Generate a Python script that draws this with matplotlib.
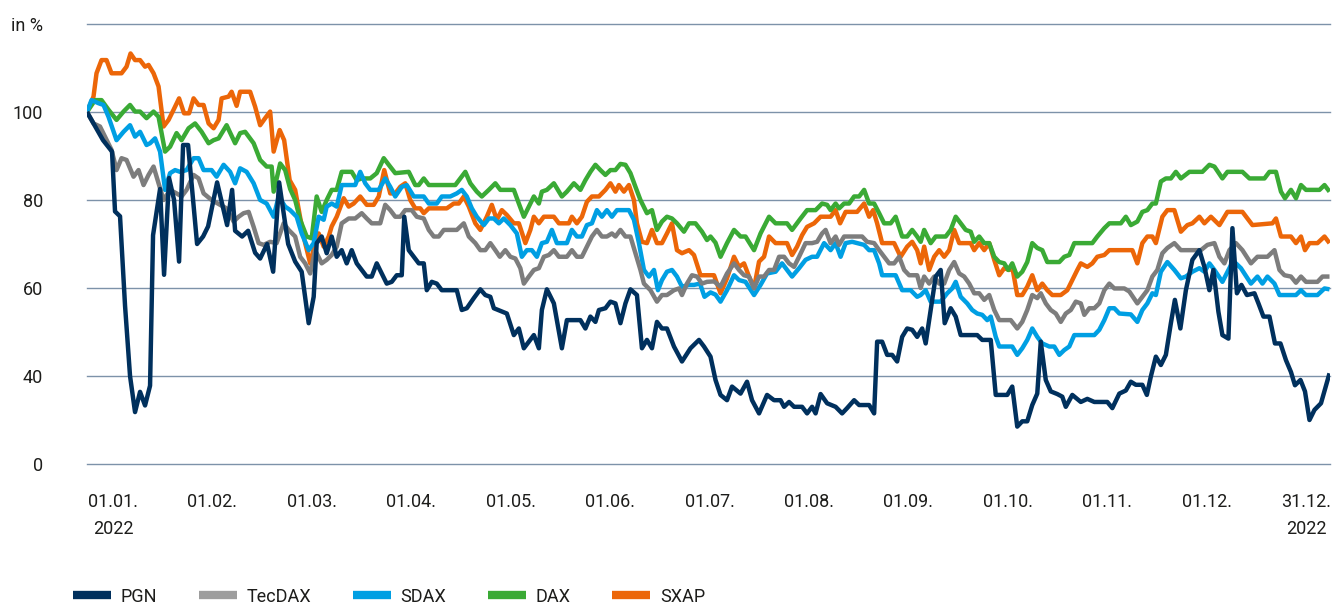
import matplotlib
matplotlib.use('Agg')
import matplotlib.pyplot as plt
from matplotlib.lines import Line2D

plt.rcParams['font.family'] = ['Roboto', 'DejaVu Sans']

# trading day index (0 = 01.01.2022, 248 = 31.12.2022), indexed to 100
pgn = [(0, 100), (2, 96), (3.2, 93.6), (5, 91), (5.6, 77.4), (6.6, 76.3), (7.6, 56), (8.6, 40), (9.6, 31.8),
       (10.6, 36.4), (11.6, 33.3), (12.6, 37.8), (13.2, 72), (14.6, 82.5), (15.4, 63), (16.4, 85), (17.4, 80),
       (18.4, 66), (19.2, 92.5), (20.2, 92.5), (22, 70), (23.2, 71.7), (24.2, 74), (26, 84), (28, 74.3),
       (29, 82.3), (29.6, 73), (31, 71.7), (32.2, 73), (33.6, 68), (34.6, 66.7), (36, 70), (37.2, 63.7),
       (38.4, 84), (40.2, 70), (41.6, 66), (42.9, 63.7), (44.3, 52), (45.3, 58), (45.9, 70.2), (46.9, 71.7),
       (47.9, 67.9), (48.9, 71.7), (49.9, 67.1), (50.9, 68.6), (51.9, 65.6), (52.9, 68.6), (53.9, 65.6),
       (55.9, 62.6), (56.9, 62.6), (57.9, 65.6), (58.9, 63.3), (59.9, 61), (60.9, 61.4), (61.9, 62.9),
       (62.9, 62.9), (63.4, 76.2), (64.3, 68.6), (65.3, 67.1), (66.3, 65.6), (67.3, 65.6), (67.9, 59.5),
       (68.9, 61.4), (69.9, 61), (70.9, 59.5), (73.9, 59.5), (74.9, 55), (75.9, 55.4), (77.3, 57.7),
       (78.6, 59.7), (79.6, 58.4), (80.6, 58), (81.3, 55.4), (83.9, 54.2), (85.3, 49.3), (86.3, 50.8),
       (87.3, 46.3), (89.3, 49.3), (90.3, 46.3), (90.9, 55), (91.9, 59.7), (93.3, 56.5), (94.9, 46.3),
       (95.9, 52.7), (98.6, 52.7), (99.6, 50.8), (100.6, 53.5), (101.6, 52.3), (102.3, 55), (103.6, 55.4),
       (104.6, 56.9), (105.6, 56.5), (106.6, 52), (107.6, 56.5), (108.6, 59.7), (109.9, 58.4), (110.9, 46.3),
       (111.9, 48.2), (112.9, 46.3), (113.9, 52.3), (114.9, 50.8), (115.9, 50.8), (117.3, 46.7), (118.9, 43.3),
       (120.6, 46.3), (122.3, 48.2), (123.3, 46.7), (124.6, 44.4), (125.6, 39.1), (126.6, 35.7), (127.9, 34.5),
       (128.9, 37.6), (130.6, 36), (131.9, 38.7), (132.9, 34.5), (134.3, 31.5), (135.9, 35.7), (137.3, 34.5),
       (138.6, 34.5), (139.3, 33), (140.3, 34.1), (141.3, 33), (142.9, 33), (143.9, 31.5), (144.9, 33),
       (145.6, 31.5), (146.6, 35.9), (147.9, 33.8), (149.6, 33), (150.9, 31.5), (151.9, 32.7), (153.3, 34.5),
       (154.3, 33.4), (156.3, 33.4), (157.3, 31.5), (157.9, 47.8), (158.9, 47.8), (159.9, 44.8), (160.9, 44.8),
       (161.9, 43.3), (162.9, 48.9), (163.9, 50.8), (164.9, 50.5), (165.9, 48.9), (166.9, 50.8), (167.6, 47.4),
       (168.6, 55), (169.6, 62.6), (170.6, 64.1), (171.4, 52), (172.6, 55.4), (173.6, 53.5), (174.6, 49.3),
       (177.9, 49.3), (178.9, 48.2), (180.6, 48.2), (181.6, 35.7), (183.9, 35.7), (184.9, 37.6), (185.9, 28.5),
       (186.9, 29.7), (187.9, 29.7), (188.9, 33.4), (189.9, 36), (190.6, 47.8), (191.6, 39.1), (192.6, 36.5),
       (193.9, 35.9), (194.9, 35.3), (195.6, 33), (196.9, 35.7), (198.6, 34.1), (199.9, 34.8), (201.3, 34.1),
       (203.9, 34.1), (204.9, 32.7), (206.3, 36), (207.6, 36.7), (208.6, 38.7), (209.6, 38), (210.9, 38),
       (211.8, 35.7), (212.6, 39.9), (213.6, 44.4), (214.6, 42.5), (215.6, 44.8), (216.6, 52), (217.4, 57.3),
       (218.5, 50.8), (219.6, 59.5), (220.9, 66.4), (222.3, 68.6), (223.3, 64.8), (224.3, 59.5), (225.1, 64.1),
       (226.1, 54.6), (226.9, 49.3), (228.1, 48.5), (228.9, 73.6), (229.8, 58.8), (230.7, 60.7), (231.8, 58.4),
       (233.3, 58.8), (234.1, 56.5), (235.1, 53.5), (236.3, 53.5), (237.4, 47.4), (238.5, 47.4), (239.6, 43.6),
       (240.6, 40.9), (241.4, 37.9), (242.5, 39.1), (243.4, 36.5), (244.3, 30), (245.3, 32.3), (246.6, 33.8),
       (248.3, 40.6)]

tecdax = [(0, 100), (1.3, 97.4), (2.6, 96.7), (3.6, 94.4), (4.9, 91.4), (5.9, 86.8), (6.9, 89.5), (7.9, 89.1),
          (9.3, 85.3), (10.3, 86.8), (11.3, 83.4), (12.3, 85.7), (13.3, 87.6), (14.3, 83.8), (15.3, 80),
          (16.6, 82.3), (17.9, 81.5), (18.9, 80.8), (19.9, 82.3), (21.3, 85.7), (22.3, 84.9), (23.3, 81.5),
          (24.9, 80), (26.6, 78.9), (27.9, 78.1), (29.3, 75.1), (30.3, 76.2), (31.3, 77), (32.3, 77.3),
          (33.3, 73.9), (34.3, 70.2), (35.3, 69.8), (36.6, 70.5), (37.9, 70.2), (39.3, 74.7), (40.3, 73.2),
          (41.6, 71.7), (42.6, 67.1), (43.6, 65.6), (44.6, 63.3), (45.6, 68.6), (46.9, 65.6), (47.9, 66.4),
          (48.9, 67.5), (49.9, 69.4), (50.9, 74.7), (52.3, 75.8), (53.6, 75.8), (54.9, 77), (55.9, 75.8),
          (56.9, 74.7), (58.6, 74.7), (59.6, 78.9), (60.6, 77.7), (61.6, 76.2), (62.6, 76.2), (63.6, 77.7),
          (64.9, 77.7), (65.9, 76.2), (67.3, 75.8), (68.3, 73.2), (69.3, 71.7), (70.3, 71.7), (71.3, 73.2),
          (73.9, 73.2), (75.3, 74.7), (76.3, 71.7), (77.6, 70.2), (78.6, 68.6), (79.6, 68.6), (80.6, 70.2),
          (81.6, 68.6), (82.5, 67.1), (83.6, 68.6), (84.6, 67.1), (85.6, 66.7), (86.6, 64.5), (87.3, 61),
          (88.3, 62.6), (89.3, 64.1), (90.3, 64.5), (91.3, 67.1), (92.3, 67.5), (93.3, 68.6), (94.3, 67.1),
          (95.9, 67.1), (96.9, 68.6), (97.9, 67.1), (98.9, 67.1), (99.9, 69.4), (100.9, 71.7), (101.9, 73.2),
          (102.9, 71.7), (103.9, 71.7), (104.9, 72.4), (105.6, 71.7), (106.6, 73.2), (107.6, 71.7), (108.6, 71.7),
          (109.6, 67.9), (110.6, 64.1), (111.3, 61), (112.6, 59.5), (113.9, 56.9), (114.9, 58.4), (115.9, 58.4),
          (117.3, 59.5), (118.3, 59.9), (118.9, 58.4), (119.9, 61), (120.9, 62.9), (121.9, 62.6), (122.9, 61),
          (123.9, 61.4), (125.3, 61.5), (126.6, 60.3), (127.9, 63.3), (129.3, 65.6), (130.3, 64.1), (131.3, 62.9),
          (132.3, 62.6), (133.3, 59.9), (134.3, 62.6), (135.3, 62.6), (136.3, 64.1), (137.3, 64.1), (138.3, 67.1),
          (139.3, 67.1), (140.3, 65.6), (141.3, 64.8), (142.3, 67.1), (143.6, 70.2), (144.9, 70.2), (145.9, 70.5),
          (146.9, 72.4), (147.6, 73.2), (148.6, 70.2), (149.6, 71.7), (150.3, 69.8), (151.3, 71.7), (154.9, 71.7),
          (155.9, 70.5), (157.3, 70.2), (158.3, 68.6), (159.3, 67.1), (160.3, 65.6), (161.3, 65.6), (162.3, 67.1),
          (163.3, 64.1), (164.3, 62.9), (165.9, 62.9), (166.6, 60), (167.3, 62.6), (168.3, 61), (169.3, 62.6),
          (170.3, 61), (171.3, 61), (172.3, 64.1), (173.3, 65.9), (174.3, 63.3), (175.3, 62.6), (176.3, 61),
          (177.3, 58.8), (178.3, 58.8), (179.3, 57.3), (180.3, 58.4), (181.3, 55), (182.3, 52.7), (184.6, 52.7),
          (185.9, 50.8), (186.9, 52.3), (187.9, 55), (188.9, 58.4), (189.9, 57.7), (190.6, 58.8), (191.6, 56.5),
          (192.6, 55), (193.6, 54.2), (194.6, 52.3), (195.6, 54.2), (196.6, 55), (197.6, 56.9), (198.6, 56.5),
          (199.3, 53.9), (200.3, 55.4), (201.3, 55.4), (202.3, 56.5), (203.3, 59.5), (204.3, 61), (205.3, 59.9),
          (207.3, 59.9), (208.3, 59.2), (209.9, 56.5), (210.9, 58), (211.9, 59.5), (212.9, 62.6), (213.9, 64.1),
          (214.9, 67.9), (215.9, 69.1), (217.3, 70.2), (218.6, 68.6), (222.6, 68.6), (223.9, 69.8), (225.3, 70.2),
          (226.3, 67.1), (227.3, 65.6), (228.3, 68.6), (229.6, 70.2), (230.9, 68.6), (232.6, 65.6), (233.9, 67.1),
          (235.9, 67.1), (237.3, 68.6), (238.3, 64.1), (239.3, 62.9), (240.6, 62.6), (241.6, 61.2), (242.6, 62.6),
          (243.6, 61.4), (245.9, 61.4), (246.9, 62.6), (248.3, 62.6)]

sdax = [(0, 100), (0.9, 102.7), (2.3, 102), (3.3, 101.6), (4.3, 98.9), (5.9, 93.6), (7.3, 95.5), (8.6, 97),
        (9.6, 94.4), (10.6, 95.5), (11.9, 92.5), (12.6, 92.9), (13.6, 94), (14.6, 91), (15.6, 82.3), (16.6, 86.1),
        (17.6, 86.8), (18.6, 86.4), (19.9, 86.8), (21.3, 89.5), (22.3, 89.5), (23.3, 86.8), (24.9, 86.8),
        (25.9, 85.3), (27.3, 88), (28.6, 86.4), (29.6, 83.8), (30.6, 87.2), (31.9, 86.4), (33.3, 83.8), (34.6, 80),
        (35.9, 79.2), (37.3, 76.2), (38.3, 80.8), (39.6, 78.5), (40.6, 77.7), (41.9, 76.2), (42.9, 72.4),
        (44.3, 68.6), (45.3, 70.2), (46.3, 76.2), (47.3, 75.5), (47.9, 78.5), (48.9, 79.2), (49.9, 78.5),
        (50.9, 83.4), (53.6, 83.4), (54.6, 86.4), (55.6, 83.8), (56.6, 82.3), (58.3, 82.3), (59.6, 84.9),
        (60.6, 83), (61.6, 80.8), (62.9, 83), (63.9, 83.4), (65.3, 80.8), (67.3, 80.8), (68.3, 79.2), (69.9, 79.2),
        (70.9, 80.8), (72.6, 80.8), (73.9, 81.5), (74.9, 82.3), (75.9, 80.8), (76.9, 78.1), (77.9, 76.2),
        (79.3, 74.3), (80.3, 75.8), (81.3, 75.8), (82.3, 74.7), (83.3, 75.8), (84.6, 74.3), (85.9, 72.4),
        (86.9, 67.1), (87.9, 68.6), (88.9, 68.6), (89.9, 67.1), (90.9, 70.2), (91.9, 70.5), (92.9, 73.2),
        (93.9, 70.2), (95.9, 70.2), (96.9, 73.2), (97.9, 71.7), (98.9, 71.7), (99.9, 74.3), (100.9, 74.7),
        (101.9, 77.7), (102.9, 76.2), (103.9, 77.7), (104.9, 76.2), (105.9, 77.7), (108.3, 77.7), (109.3, 75.5),
        (110.3, 70.2), (111.3, 64.1), (112.3, 62.6), (113.3, 64.1), (114.1, 59.5), (114.9, 61.8), (115.9, 63.7),
        (116.9, 64.1), (117.9, 62.6), (118.9, 60.3), (120.3, 60.7), (121.3, 60.7), (122.5, 61), (123.4, 58),
        (124.6, 59), (125.6, 58.5), (126.6, 56.9), (127.9, 59.5), (129.3, 62.9), (130.3, 61.8), (131.6, 61.4),
        (133.3, 58.4), (134.6, 60.7), (135.9, 63.3), (137.6, 63.7), (138.9, 65.6), (139.9, 64.1), (140.9, 62.6),
        (142.3, 64.5), (143.6, 66.4), (144.9, 67.1), (145.9, 67.1), (147.3, 70.2), (148.6, 68.6), (149.6, 70.2),
        (150.6, 67.1), (151.6, 70.2), (152.9, 70.5), (153.9, 70.2), (155.3, 69.8), (156.3, 68.6), (157.3, 68.6),
        (158.3, 65.6), (158.9, 62.9), (161.6, 62.9), (162.9, 59.5), (164.6, 59.5), (165.9, 58), (166.6, 58.4),
        (167.6, 59.5), (168.6, 56.9), (170.6, 56.9), (171.9, 58.8), (172.9, 59.9), (173.6, 61.4), (174.6, 58),
        (175.9, 56.5), (176.9, 55), (177.9, 54.2), (178.9, 53.9), (179.9, 52.7), (180.6, 53.5), (181.6, 48.9),
        (182.3, 46.7), (184.9, 46.7), (185.9, 44.8), (186.9, 46.3), (187.9, 48.2), (188.9, 50.8), (189.9, 48.9),
        (190.9, 47.4), (192.3, 46.7), (193.3, 46.7), (194.3, 44.8), (195.3, 45.9), (196.3, 46.7), (197.3, 49.3),
        (201.3, 49.3), (202.3, 50.5), (203.3, 52.7), (204.3, 55.4), (205.3, 55.4), (206.3, 54.2), (208.6, 54),
        (209.9, 52.3), (210.9, 55), (211.9, 56.5), (212.9, 58.8), (213.6, 58.4), (214.6, 63.7), (215.9, 65.9),
        (217.3, 64.1), (218.6, 62.2), (219.6, 62.6), (220.9, 63.7), (222.3, 64.5), (223.3, 63.7), (224.3, 65.6),
        (225.3, 64.1), (226.9, 61.4), (228.6, 65.2), (229.6, 65.6), (230.6, 64.5), (232.6, 61), (233.9, 62.6),
        (234.9, 61), (235.9, 62.6), (237.3, 61), (238.3, 58.4), (241.6, 58.4), (242.6, 59.5), (243.6, 58.4),
        (245.9, 58.4), (247.3, 59.9), (248.3, 59.7)]

dax = [(0, 100), (1.6, 102.7), (2.9, 102.7), (4.3, 100.5), (5.9, 98.2), (7.3, 100.1), (8.6, 101.6), (9.6, 100.1),
       (10.6, 100.1), (11.9, 98.6), (13.3, 100.1), (14.3, 98.9), (15.6, 91), (16.6, 92.1), (17.9, 95.2),
       (18.9, 93.6), (20.3, 96.3), (21.6, 97.4), (22.9, 95.5), (24.3, 92.9), (25.3, 93.6), (26.3, 94), (27.9, 97),
       (29.6, 92.9), (30.6, 95.2), (31.6, 95.5), (33.3, 92.9), (34.6, 89.1), (35.9, 87.6), (36.9, 87.6),
       (37.3, 81.9), (38.6, 88.3), (39.6, 86.8), (40.6, 82.5), (41.6, 80), (42.6, 75.5), (43.9, 71.7),
       (44.9, 71.3), (45.9, 80.8), (46.9, 77.3), (47.9, 80), (48.9, 82.3), (49.9, 82.3), (50.9, 86.4),
       (52.9, 86.4), (53.9, 84.5), (54.9, 84.9), (56.6, 84.9), (57.9, 86.1), (59.3, 89.5), (60.3, 88),
       (61.6, 86.1), (64.3, 86.4), (65.6, 83.4), (66.3, 83.4), (67.3, 84.9), (68.3, 83.4), (73.6, 83.4),
       (74.6, 84.9), (75.6, 86.4), (76.6, 83.8), (77.9, 81.9), (78.9, 80.8), (80.3, 82.3), (81.6, 83.8),
       (82.6, 82.3), (85.3, 82.3), (86.3, 79.2), (87.3, 76.2), (88.3, 78.5), (89.3, 80.8), (90.3, 79.2),
       (90.9, 81.9), (91.9, 82.3), (93.3, 83.8), (94.9, 80.8), (95.9, 81.9), (97.3, 83.8), (98.6, 82.3),
       (99.6, 84.5), (100.6, 86.4), (101.6, 88), (102.6, 86.8), (103.6, 85.7), (104.6, 86.8), (105.6, 86.8),
       (106.6, 88.2), (107.6, 88), (108.6, 86.1), (109.6, 83), (110.6, 80), (111.9, 77), (112.9, 77.7),
       (113.9, 73.2), (114.9, 75.1), (115.9, 76.2), (116.9, 75.8), (117.9, 74.7), (119.3, 72.8), (120.3, 74.7),
       (121.6, 74.7), (122.9, 72.8), (123.9, 70.9), (124.6, 71.7), (125.6, 70.3), (126.6, 67.1), (127.9, 70.2),
       (129.3, 73.2), (130.6, 71.7), (131.6, 71.7), (133.3, 68.6), (134.6, 72.4), (136.3, 76.2), (137.6, 74.7),
       (139.9, 74.7), (140.9, 73.2), (142.6, 75.8), (143.9, 77.7), (145.6, 77.7), (146.9, 79.2), (147.9, 78.9),
       (148.6, 77.7), (149.6, 79.2), (150.3, 78.1), (151.3, 79.2), (152.3, 79.2), (153.3, 80.8), (154.3, 80.8),
       (155.3, 82.3), (156.3, 79.2), (157.3, 79.2), (158.3, 77), (159.3, 74.7), (160.6, 74.7), (161.6, 76.2),
       (162.9, 71.7), (163.9, 71.7), (164.9, 73.2), (165.9, 71.7), (166.6, 70.5), (167.3, 73.2), (168.6, 70.2),
       (169.6, 71.7), (171.6, 71.7), (172.6, 73.2), (173.6, 76.2), (174.6, 74.7), (175.6, 73.2), (176.6, 72.8),
       (177.3, 70.5), (178.3, 71.7), (179.3, 70.2), (180.3, 70.2), (181.3, 67.1), (182.3, 65.9), (183.3, 65.6),
       (184.1, 64.1), (184.9, 65.6), (185.9, 62.6), (186.9, 63.7), (187.9, 65.9), (188.9, 70.2), (189.9, 69.1),
       (190.9, 68.6), (191.9, 65.9), (194.3, 65.9), (195.3, 67.1), (196.3, 67.5), (197.3, 70.2), (200.9, 70.2),
       (201.9, 71.7), (203.3, 73.6), (204.3, 74.7), (206.6, 74.7), (207.6, 76.2), (208.6, 74.3), (209.9, 75.1),
       (210.9, 77.3), (211.9, 77.7), (212.9, 79.2), (213.6, 79.2), (214.6, 84.2), (215.6, 84.9), (216.6, 84.9),
       (217.6, 86.4), (218.6, 84.9), (220.3, 86.4), (222.9, 86.4), (224.3, 88), (225.3, 87.6), (226.9, 84.9),
       (227.9, 86.4), (230.9, 86.4), (232.3, 84.9), (235.3, 84.9), (236.3, 86.4), (237.6, 86.4), (238.6, 81.9),
       (239.4, 80.4), (240.6, 82.3), (241.6, 80.4), (242.6, 83.4), (243.6, 82.3), (246.3, 82.3), (247.3, 83.4),
       (248.3, 81.9)]

sxap = [(0, 100), (1.3, 103.5), (1.9, 108.8), (2.9, 111.8), (3.9, 111.8), (4.9, 108.8), (6.9, 108.8), (7.9, 110.3),
        (8.7, 113.3), (9.6, 111.8), (10.6, 111.8), (11.6, 110.3), (12.3, 110.7), (13.3, 108.8), (14.3, 105.8),
        (15.3, 96.7), (16.3, 98.2), (17.3, 100.5), (18.4, 103.1), (19.4, 99.7), (20.4, 99.7), (21.3, 103.1),
        (22.3, 101.6), (23.3, 101.6), (24.3, 97.4), (25.3, 96.3), (26.3, 98.2), (26.9, 103.1), (28.3, 103.5),
        (28.9, 104.6), (29.9, 101.4), (30.6, 104.6), (32.6, 104.6), (33.6, 101.2), (34.6, 97), (35.6, 98.6),
        (36.6, 100.1), (37.3, 91), (38.5, 95.9), (39.4, 93.6), (40.5, 84.5), (41.6, 82.3), (42.6, 76),
        (43.6, 70.2), (44.6, 65.6), (45.4, 69.4), (46.3, 72.4), (47.3, 69.4), (48.3, 71.7), (48.9, 74),
        (49.9, 76.2), (51.3, 80.4), (52.3, 78.5), (53.3, 79.2), (54.6, 80.8), (55.9, 78.9), (57.3, 78.9),
        (58.3, 80.8), (59.4, 86.8), (60.6, 81.5), (61.6, 81.5), (62.6, 83), (63.6, 83.8), (64.6, 80), (65.6, 78.1),
        (66.6, 78.1), (67.3, 77), (68.3, 78.1), (71.9, 78.1), (73.3, 79.2), (74.3, 79.2), (75.3, 80.8),
        (76.3, 78.5), (77.6, 74.7), (78.6, 73.2), (79.9, 76.2), (80.9, 78.9), (81.9, 75.5), (82.9, 77.7),
        (83.9, 76.6), (85.3, 74.7), (86.3, 74.7), (87.6, 70.2), (88.6, 73.2), (89.3, 76.2), (90.3, 74.7),
        (91.3, 76.2), (93.3, 76.2), (94.3, 74.7), (96.3, 74.7), (96.9, 76.2), (97.9, 74.7), (98.9, 76.2),
        (99.9, 79.6), (100.9, 80.8), (102.3, 80.8), (103.6, 82.3), (104.6, 83.8), (105.6, 81.9), (106.3, 83.4),
        (107.3, 81.9), (108.3, 83.4), (109.3, 80), (109.9, 74.7), (110.9, 70.5), (111.9, 70.2), (112.9, 73.2),
        (113.9, 70.2), (114.9, 70.2), (115.9, 72.4), (116.9, 74.7), (117.9, 68.6), (118.9, 67.9), (120.3, 68.6),
        (121.3, 67.5), (122.6, 62.9), (125.3, 62.9), (126.6, 58.8), (127.9, 62.2), (129.3, 67.1), (130.3, 64.8),
        (131.3, 65.6), (132.3, 62.6), (133.3, 60), (134.3, 66), (135.3, 67.1), (136.3, 71.7), (137.6, 70.2),
        (139.9, 70.2), (140.9, 67.5), (141.9, 69.4), (142.9, 72), (143.9, 73.9), (145.3, 74.7), (146.6, 76.2),
        (148.6, 76.2), (149.6, 77.7), (150.5, 74.7), (151.6, 77.3), (153.9, 77.3), (155.3, 79.2), (156.3, 76.2),
        (157.1, 77.7), (157.9, 74.7), (158.9, 70.2), (161.3, 70.2), (162.6, 67.1), (163.9, 69.4), (164.9, 70.5),
        (165.9, 68.6), (166.6, 65.6), (167.3, 69.4), (168.3, 64.1), (169.3, 67.1), (170.3, 68.6), (171.3, 67.1),
        (172.3, 68.6), (173.3, 73.2), (174.3, 70.2), (176.6, 70.2), (177.3, 68.6), (178.3, 70.2), (179.3, 68.6),
        (180.3, 70.2), (181.3, 66.4), (182.3, 62.9), (183.3, 64.5), (184.3, 64.1), (184.9, 64.8), (185.9, 58.4),
        (186.9, 58.4), (187.9, 60.3), (188.9, 62.9), (189.9, 59.5), (190.9, 61), (191.9, 59.5), (192.9, 58.4),
        (194.6, 58.4), (195.9, 59.5), (196.9, 61.8), (197.9, 64.1), (198.6, 65.6), (199.9, 64.8), (200.9, 65.6),
        (201.9, 67.1), (203.3, 67.5), (204.3, 68.6), (208.9, 68.6), (209.9, 65.6), (210.9, 70.2), (211.9, 71.7),
        (212.9, 71.7), (213.6, 70.2), (214.9, 76.2), (215.9, 77.7), (217.3, 77.7), (218.6, 72.8), (219.9, 74.3),
        (220.9, 74.7), (222.3, 76.2), (223.3, 74.7), (224.6, 76.2), (226.3, 74.3), (227.9, 77.3), (230.9, 77.3),
        (232.9, 74.3), (236.9, 74.7), (237.6, 75.8), (238.6, 71.7), (240.6, 71.7), (241.6, 70.2), (242.6, 71.7),
        (243.4, 68.6), (244.3, 70.2), (245.9, 70.2), (247.3, 71.7), (248.3, 70.2)]

names = ['PGN', 'TecDAX', 'SDAX', 'DAX', 'SXAP']
colors = ['#00305d', '#7d7d7d', '#009fe3', '#3aaa35', '#ec6608']
legend_colors = ['#00305d', '#9d9d9d', '#009fe3', '#3aaa35', '#ec6608']
series = [pgn, tecdax, sdax, dax, sxap]

xlabels = ['01.01.\n2022', '01.02.', '01.03.', '01.04.', '01.05.', '01.06.', '01.07.',
           '01.08.', '01.09.', '01.10.', '01.11.', '01.12.', '31.12.\n2022']
yvals = [20, 40, 60, 80, 100, 120]
ylabels = ['0', '40', '60', '80', '100', 'in %']

W, H = 1340, 603
fig = plt.figure(figsize=(W / 100, H / 100), dpi=100)
ax = fig.add_axes([87 / W, 139 / H, 1243 / W, 440 / H])

for y in yvals:
    ax.axhline(y, color='#7d92a9', lw=1.0, zorder=1, clip_on=False)

# draw from back (SXAP) to front (PGN)
for data, col, z in zip(series[::-1], colors[::-1], range(5)):
    d, v = zip(*data)
    ax.plot(d, v, color=col, lw=3.2, solid_joinstyle='round', solid_capstyle='butt', zorder=2 + z)

fs = 13
ax.set_xlim(0, 248.4)
ax.set_ylim(20, 120)
n = len(xlabels)
ax.set_xticks([5.2 + i * (243.6 - 5.2) / (n - 1) for i in range(n)])
ax.set_xticklabels(xlabels, fontsize=fs, color='#1d1d1b', linespacing=1.6, ha='center')
ax.set_yticks(yvals)
ax.set_yticklabels(ylabels, fontsize=fs, color='#1d1d1b')
ax.tick_params(axis='x', length=0, pad=21)
ax.tick_params(axis='y', length=0, pad=31.5)
for s in ax.spines.values():
    s.set_visible(False)

handles = [Line2D([], [], color=c, lw=6, solid_capstyle='butt') for c in legend_colors]
fig.legend(handles, names, loc='center left', bbox_to_anchor=(73 / W, 6.5 / H), ncol=5, frameon=False,
           fontsize=fs, handlelength=2.1, handletextpad=0.55, columnspacing=2.3,
           borderpad=0, borderaxespad=0, labelcolor='#1d1d1b')

fig.savefig('out.png', dpi=100)
